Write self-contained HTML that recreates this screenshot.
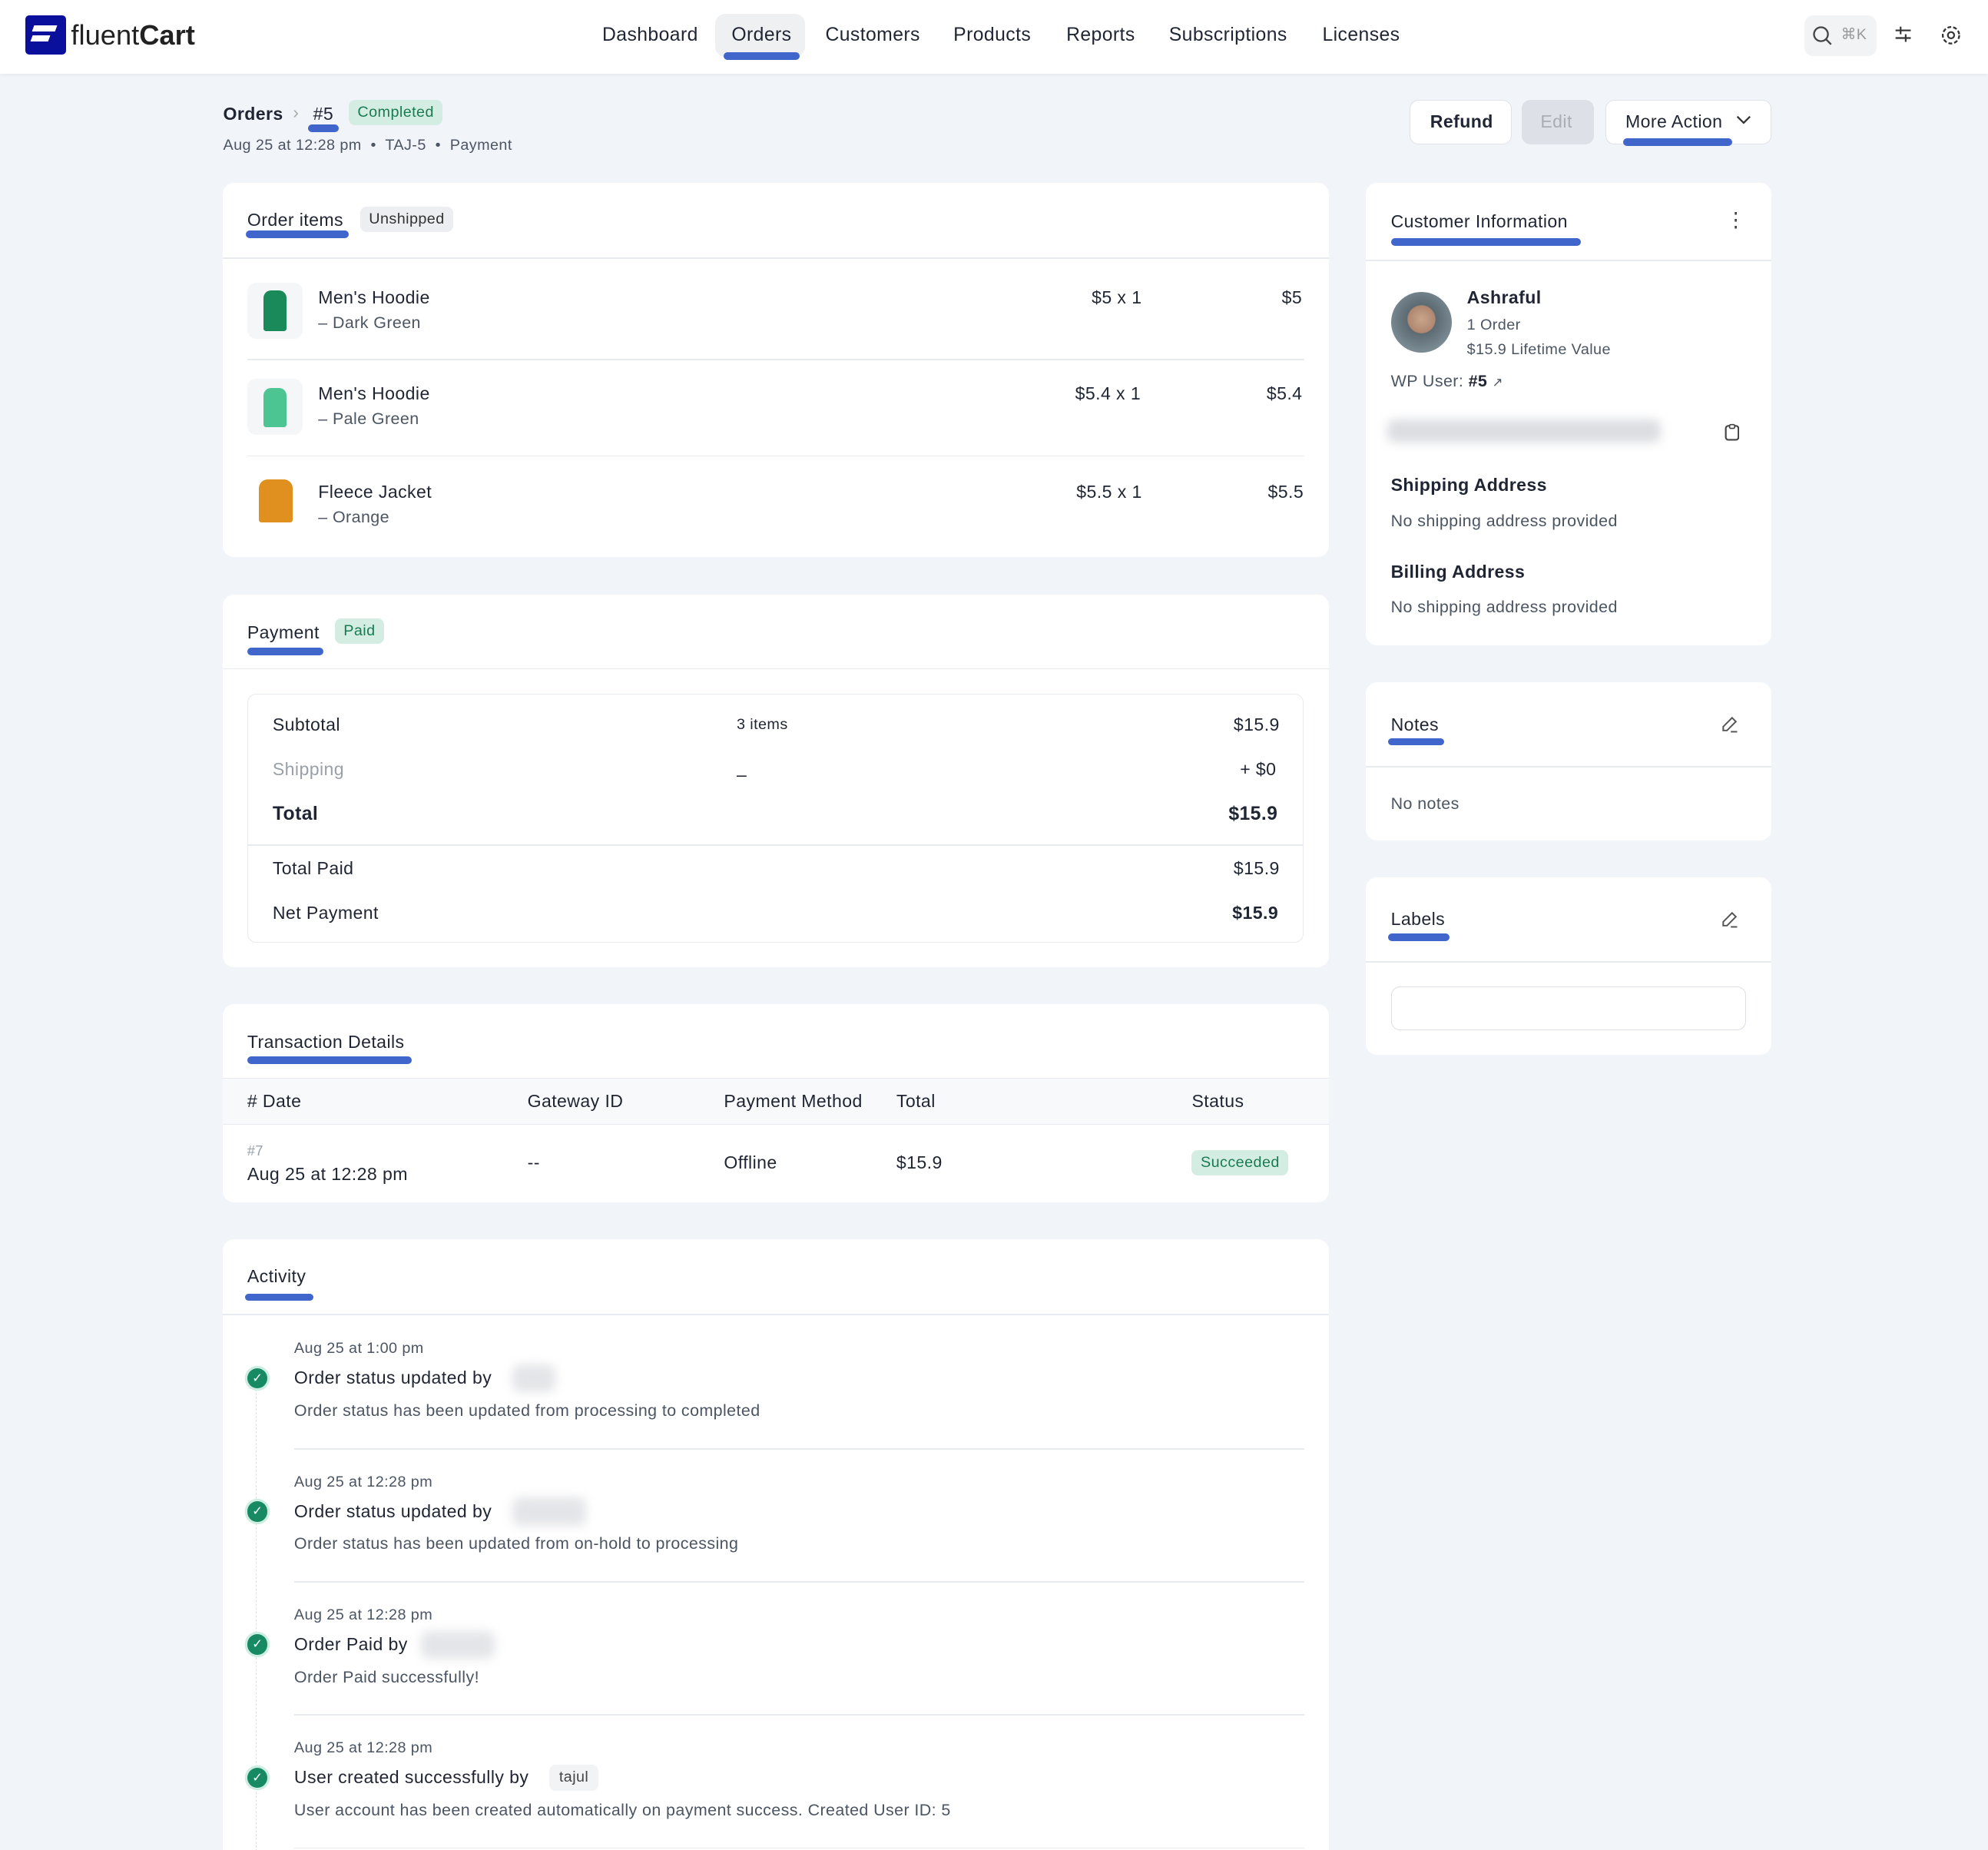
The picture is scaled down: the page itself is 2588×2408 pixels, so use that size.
<!DOCTYPE html>
<html><head><meta charset="utf-8"><style>
html,body{margin:0;padding:0;background:#f1f4f9;}
#w{zoom:1.6505;width:1568px;height:1459px;position:relative;overflow:hidden;background:#f1f4f9;font-family:"Liberation Sans",sans-serif;color:#1f2533;font-size:14px;letter-spacing:0.25px;}
.a{position:absolute;white-space:nowrap;line-height:18px;}
.card{position:absolute;background:#fff;border-radius:9px;}
.ul{position:absolute;height:6px;background:#4066cc;border-radius:3px;}
.hr{position:absolute;height:1px;background:#e7eaef;}
.g{color:#4b5563;}
.b{font-weight:bold;}
.badge{position:absolute;border-radius:5px;font-size:12px;line-height:20px;padding:0 7px;}
.thumb{position:absolute;width:44px;height:44px;border-radius:7px;background:#f5f6f7;}
.chk{position:absolute;width:16px;height:16px;border-radius:50%;background:#178a64;box-shadow:0 0 0 2px #cfeee2;color:#fff;font-size:10px;line-height:16px;text-align:center;letter-spacing:0;}
.blur{position:absolute;background:#e4e5e8;border-radius:6px;filter:blur(4px);}
</style></head><body><div id="w">

<div style="position:absolute;left:0;top:0;width:1568px;height:58px;background:#fff;box-shadow:0 1px 3px rgba(0,0,0,.05)"></div>
<div style="position:absolute;left:20px;top:12px;width:32px;height:31px;background:#0a0f9c;border-radius:3px"></div>
<div style="position:absolute;left:26px;top:20px;width:18px;height:5px;background:#fff;transform:skewX(-20deg)"></div>
<div style="position:absolute;left:25px;top:28px;width:14px;height:5px;background:#fff;transform:skewX(-20deg)"></div>
<div class="a" style="left:56px;top:15px;font-size:22px;line-height:26px;color:#222;letter-spacing:0">fluent<span style="font-weight:bold">Cart</span></div>
<div style="position:absolute;left:564px;top:11px;width:71px;height:34px;background:#eff0f2;border-radius:8px"></div>
<div class="ul" style="left:571px;top:41px;width:60px"></div>
<div class="a" style="left:475px;top:19px;font-size:15px">Dashboard</div>
<div class="a" style="left:577px;top:19px;font-size:15px">Orders</div>
<div class="a" style="left:651px;top:19px;font-size:15px">Customers</div>
<div class="a" style="left:752px;top:19px;font-size:15px">Products</div>
<div class="a" style="left:841px;top:19px;font-size:15px">Reports</div>
<div class="a" style="left:922px;top:19px;font-size:15px">Subscriptions</div>
<div class="a" style="left:1043px;top:19px;font-size:15px">Licenses</div>
<div style="position:absolute;left:1423px;top:12px;width:57px;height:32px;background:#f2f3f5;border-radius:7px"></div>
<svg style="position:absolute;left:1429px;top:20px" width="16" height="16"><circle cx="7" cy="7" r="5.5" fill="none" stroke="#444" stroke-width="1.4"/><line x1="11" y1="11" x2="15" y2="15" stroke="#444" stroke-width="1.4"/></svg>
<div class="a" style="left:1452px;top:19px;font-size:12px;color:#999">⌘K</div>
<svg style="position:absolute;left:1494px;top:20px" width="14" height="14" stroke="#333" stroke-width="1.3"><line x1="1" y1="4" x2="13" y2="4"/><line x1="1" y1="10" x2="13" y2="10"/><line x1="5" y1="1" x2="5" y2="7"/><line x1="9" y1="7" x2="9" y2="13"/></svg>
<svg style="position:absolute;left:1530px;top:19px" width="18" height="18"><circle cx="9" cy="9" r="6.5" fill="none" stroke="#333" stroke-width="1.4" stroke-dasharray="3 1.6"/><circle cx="9" cy="9" r="2.5" fill="none" stroke="#333" stroke-width="1.3"/></svg>

<div class="a b" style="left:176px;top:81px;font-size:14px">Orders</div>
<div class="a" style="left:231px;top:80px;color:#aaa">›</div>
<div class="a" style="left:247px;top:81px;font-size:14px">#5</div>
<div class="ul" style="left:243px;top:98px;width:24px"></div>
<div class="badge" style="left:275px;top:79px;background:#d4ede3;color:#1a7a52">Completed</div>
<div class="a g" style="left:176px;top:106px;font-size:12px">Aug 25 at 12:28 pm &nbsp;•&nbsp; TAJ-5 &nbsp;•&nbsp; Payment</div>

<div style="position:absolute;left:1112px;top:79px;width:79px;height:34px;background:#fff;border:1px solid #dfe2e7;border-radius:7px"></div>
<div class="a b" style="left:1128px;top:87px;font-size:14px">Refund</div>
<div style="position:absolute;left:1200px;top:79px;width:57px;height:35px;background:#dde0e6;border-radius:7px"></div>
<div class="a" style="left:1215px;top:87px;color:#a9adb6">Edit</div>
<div style="position:absolute;left:1266px;top:79px;width:130px;height:34px;background:#fff;border:1px solid #dfe2e7;border-radius:7px"></div>
<div class="a" style="left:1282px;top:87px;font-size:14px">More Action</div>
<svg style="position:absolute;left:1369px;top:91px" width="12" height="8"><polyline points="1,1 6,6 11,1" fill="none" stroke="#333" stroke-width="1.4"/></svg>
<div class="ul" style="left:1280px;top:109px;width:86px"></div>

<div class="card" style="left:176px;top:144px;width:872px;height:295px"></div>
<div class="a" style="left:195px;top:165px;font-size:14px">Order items</div>
<div class="ul" style="left:194px;top:182px;width:81px"></div>
<div class="badge" style="left:284px;top:163px;background:#eceef2;color:#333">Unshipped</div>
<div class="hr" style="left:176px;top:203px;width:872px"></div>

<div class="thumb" style="left:195px;top:223px"></div>
<div style="position:absolute;left:208px;top:229px;width:18px;height:32px;background:#1a8a5a;border-radius:6px 6px 2px 2px"></div>
<div class="a" style="left:251px;top:226px;font-size:14px">Men's Hoodie</div>
<div class="a g" style="left:251px;top:246px;font-size:13px">– Dark Green</div>
<div class="a" style="left:861px;top:226px">$5 x 1</div>
<div class="a" style="left:1011px;top:226px">$5</div>
<div class="hr" style="left:195px;top:283px;width:834px"></div>

<div class="thumb" style="left:195px;top:299px"></div>
<div style="position:absolute;left:208px;top:306px;width:18px;height:31px;background:#4dc592;border-radius:6px 6px 2px 2px"></div>
<div class="a" style="left:251px;top:302px;font-size:14px">Men's Hoodie</div>
<div class="a g" style="left:251px;top:322px;font-size:13px">– Pale Green</div>
<div class="a" style="left:848px;top:302px">$5.4 x 1</div>
<div class="a" style="left:999px;top:302px">$5.4</div>
<div class="hr" style="left:195px;top:359px;width:834px"></div>

<div class="thumb" style="left:195px;top:375px;background:#fff"></div>
<div style="position:absolute;left:204px;top:378px;width:27px;height:34px;background:#e0901e;border-radius:7px 7px 2px 2px"></div>
<div class="a" style="left:251px;top:379px;font-size:14px">Fleece Jacket</div>
<div class="a g" style="left:251px;top:399px;font-size:13px">– Orange</div>
<div class="a" style="left:849px;top:379px">$5.5 x 1</div>
<div class="a" style="left:1000px;top:379px">$5.5</div>

<div class="card" style="left:176px;top:469px;width:872px;height:294px"></div>
<div class="a" style="left:195px;top:490px;font-size:14px">Payment</div>
<div class="ul" style="left:195px;top:511px;width:60px"></div>
<div class="badge" style="left:264px;top:488px;background:#d4ede3;color:#1a7a52">Paid</div>
<div class="hr" style="left:176px;top:527px;width:872px"></div>
<div style="position:absolute;left:195px;top:547px;width:832px;height:195px;border:1px solid #e7eaef;border-radius:7px"></div>
<div class="hr" style="left:196px;top:666px;width:832px"></div>
<div class="a" style="left:215px;top:563px">Subtotal</div>
<div class="a" style="left:581px;top:563px;font-size:12px">3 items</div>
<div class="a" style="left:973px;top:563px">$15.9</div>
<div class="a" style="left:215px;top:598px;color:#9aa0aa">Shipping</div>
<div class="a" style="left:581px;top:602px">–</div>
<div class="a" style="left:978px;top:598px">+ $0</div>
<div class="a b" style="left:215px;top:633px;font-size:15px">Total</div>
<div class="a b" style="left:969px;top:633px;font-size:15px">$15.9</div>
<div class="a" style="left:215px;top:676px">Total Paid</div>
<div class="a" style="left:973px;top:676px">$15.9</div>
<div class="a" style="left:215px;top:711px">Net Payment</div>
<div class="a b" style="left:972px;top:711px">$15.9</div>

<div class="card" style="left:176px;top:792px;width:872px;height:156px"></div>
<div class="a" style="left:195px;top:813px;font-size:14px">Transaction Details</div>
<div class="ul" style="left:195px;top:833px;width:130px"></div>
<div style="position:absolute;left:176px;top:850px;width:872px;height:36px;background:#f8f9fb;border-top:1px solid #e7eaef;border-bottom:1px solid #e7eaef"></div>
<div class="a" style="left:195px;top:860px">#&nbsp;Date</div>
<div class="a" style="left:416px;top:860px">Gateway ID</div>
<div class="a" style="left:571px;top:860px">Payment Method</div>
<div class="a" style="left:707px;top:860px">Total</div>
<div class="a" style="left:940px;top:860px">Status</div>
<div class="a" style="left:195px;top:901px;font-size:11px;color:#9aa0aa;line-height:14px">#7</div>
<div class="a" style="left:195px;top:917px">Aug 25 at 12:28 pm</div>
<div class="a" style="left:416px;top:908px">--</div>
<div class="a" style="left:571px;top:908px">Offline</div>
<div class="a" style="left:707px;top:908px">$15.9</div>
<div class="badge" style="left:940px;top:907px;background:#d4ede3;color:#1a7a52">Succeeded</div>

<div class="card" style="left:176px;top:977px;width:872px;height:500px"></div>
<div class="a" style="left:195px;top:998px;font-size:14px">Activity</div>
<div class="ul" style="left:193px;top:1020px;width:54px"></div>
<div class="hr" style="left:176px;top:1036px;width:872px"></div>
<div style="position:absolute;left:202px;top:1080px;width:0;height:380px;border-left:1px dashed #dde0e5"></div>

<div class="a g" style="left:232px;top:1055px;font-size:12px">Aug 25 at 1:00 pm</div>
<div class="chk" style="left:195px;top:1079px">✓</div>
<div class="a" style="left:232px;top:1078px;font-size:14px">Order status updated by</div>
<div class="blur" style="left:404px;top:1076px;width:34px;height:22px"></div>
<div class="a g" style="left:232px;top:1104px;font-size:13px">Order status has been updated from processing to completed</div>
<div class="hr" style="left:232px;top:1142px;width:797px"></div>

<div class="a g" style="left:232px;top:1160px;font-size:12px">Aug 25 at 12:28 pm</div>
<div class="chk" style="left:195px;top:1184px">✓</div>
<div class="a" style="left:232px;top:1183px;font-size:14px">Order status updated by</div>
<div class="blur" style="left:404px;top:1181px;width:58px;height:22px"></div>
<div class="a g" style="left:232px;top:1209px;font-size:13px">Order status has been updated from on-hold to processing</div>
<div class="hr" style="left:232px;top:1247px;width:797px"></div>

<div class="a g" style="left:232px;top:1265px;font-size:12px">Aug 25 at 12:28 pm</div>
<div class="chk" style="left:195px;top:1289px">✓</div>
<div class="a" style="left:232px;top:1288px;font-size:14px">Order Paid by</div>
<div class="blur" style="left:332px;top:1286px;width:58px;height:22px"></div>
<div class="a g" style="left:232px;top:1314px;font-size:13px">Order Paid successfully!</div>
<div class="hr" style="left:232px;top:1352px;width:797px"></div>

<div class="a g" style="left:232px;top:1370px;font-size:12px">Aug 25 at 12:28 pm</div>
<div class="chk" style="left:195px;top:1394px">✓</div>
<div class="a" style="left:232px;top:1393px;font-size:14px">User created successfully by</div>
<div class="badge" style="left:433px;top:1392px;background:#f2f3f5;color:#444;padding:0 8px">tajul</div>
<div class="a g" style="left:232px;top:1419px;font-size:13px">User account has been created automatically on payment success. Created User ID: 5</div>
<div class="hr" style="left:232px;top:1457px;width:797px"></div>

<div class="card" style="left:1077px;top:144px;width:320px;height:365px"></div>
<div class="a" style="left:1097px;top:166px;font-size:14px">Customer Information</div>
<div class="ul" style="left:1097px;top:188px;width:150px"></div>
<div class="a" style="left:1361px;top:165px;font-size:16px;color:#444">⋮</div>
<div class="hr" style="left:1077px;top:205px;width:320px"></div>
<div style="position:absolute;left:1097px;top:230px;width:48px;height:48px;border-radius:50%;background:radial-gradient(circle at 50% 45%,#c9a58c 0,#b08770 30%,#5c6a72 32%,#7a8a92 70%);"></div>
<div class="a b" style="left:1157px;top:226px;font-size:14px">Ashraful</div>
<div class="a g" style="left:1157px;top:248px;font-size:12px">1 Order</div>
<div class="a g" style="left:1157px;top:267px;font-size:12px">$15.9 Lifetime Value</div>
<div class="a g" style="left:1097px;top:292px;font-size:13px">WP User: <b style="color:#1f2533">#5</b> <span style="font-size:10px">↗</span></div>
<div class="blur" style="left:1094px;top:331px;width:216px;height:18px;background:#dcdde1"></div>
<svg style="position:absolute;left:1360px;top:334px" width="12" height="14"><rect x="1" y="2" width="10" height="11" rx="2" fill="none" stroke="#444" stroke-width="1.3"/><rect x="4" y="1" width="4" height="3" rx="1" fill="#fff" stroke="#444" stroke-width="1"/></svg>
<div class="a b" style="left:1097px;top:374px;font-size:14px">Shipping Address</div>
<div class="a g" style="left:1097px;top:402px;font-size:13px">No shipping address provided</div>
<div class="a b" style="left:1097px;top:442px;font-size:14px">Billing Address</div>
<div class="a g" style="left:1097px;top:470px;font-size:13px">No shipping address provided</div>

<div class="card" style="left:1077px;top:538px;width:320px;height:125px"></div>
<div class="a" style="left:1097px;top:563px;font-size:14px">Notes</div>
<div class="ul" style="left:1095px;top:582px;width:44px"></div>
<svg style="position:absolute;left:1357px;top:564px" width="14" height="14"><path d="M2 12 L2 9 L9 2 L12 5 L5 12 Z" fill="none" stroke="#555" stroke-width="1.2"/><line x1="8" y1="13" x2="13" y2="13" stroke="#555" stroke-width="1.2"/></svg>
<div class="hr" style="left:1077px;top:604px;width:320px"></div>
<div class="a g" style="left:1097px;top:625px;font-size:13px">No notes</div>

<div class="card" style="left:1077px;top:692px;width:320px;height:140px"></div>
<div class="a" style="left:1097px;top:716px;font-size:14px">Labels</div>
<div class="ul" style="left:1095px;top:736px;width:48px"></div>
<svg style="position:absolute;left:1357px;top:718px" width="14" height="14"><path d="M2 12 L2 9 L9 2 L12 5 L5 12 Z" fill="none" stroke="#555" stroke-width="1.2"/><line x1="8" y1="13" x2="13" y2="13" stroke="#555" stroke-width="1.2"/></svg>
<div class="hr" style="left:1077px;top:758px;width:320px"></div>
<div style="position:absolute;left:1097px;top:778px;width:279px;height:33px;border:1px solid #dcdfe5;border-radius:7px"></div>

</div></body></html>
